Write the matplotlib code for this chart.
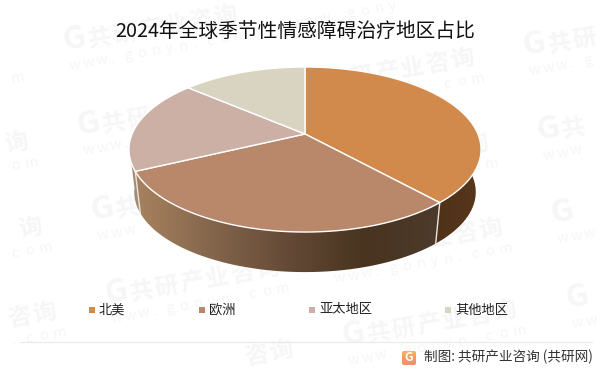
import numpy as np
import matplotlib
matplotlib.use('Agg')
import matplotlib.pyplot as plt
from matplotlib.colors import LinearSegmentedColormap
from matplotlib.patches import Polygon, FancyBboxPatch

plt.rcParams['font.family'] = ['Noto Sans CJK SC', 'DejaVu Sans']

title = '2024年全球季节性情感障碍治疗地区占比'
regions = ['北美', '欧洲', '亚太地区', '其他地区']
shares = [38.3, 29.6, 18.4, 13.7]
top_colors = ['#d1894c', '#b9886b', '#ccb0a5', '#d9d4c1']
source = '制图: 共研产业咨询 (共研网)'
legend_x = [92, 202, 312, 448]
wm_word = 'G共研产业咨询'
wm_url = 'www.gonyn.com'
# bottom left corner of each watermark logo
wm_x = [65, 79, 93, 107, 121, -158, -144, -130, -116, 288, 302, 316, 330, 344, 525, 539, 553, 568]
wm_y = [57, 142, 227, 310, 392, 99, 184, 269, 354, 15, 100, 185, 270, 352, 62, 147, 230, 315]

k = 0.188
ax_x, ax_y = 172.9, 79.6
cx, cy = 305, 134
depth = 43
shrink = 0.97
wm_color = '#f6f6f6'


def project(deg, s=1.0, dy=0):
    t = np.radians(deg)
    X, Y = np.sin(t), np.cos(t)
    w = 1 + k * Y
    return cx + s * ax_x * X / w, cy + dy - s * ax_y * Y / w


fig = plt.figure(figsize=(6.02, 3.75), dpi=100)
ax = fig.add_axes([0, 0, 1, 1])
ax.set_xlim(0, 602)
ax.set_ylim(375, 0)
ax.axis('off')

# watermark, one glyph at a time, glyphs past the edge are left out
r = np.radians(10)
for x, y in zip(wm_x, wm_y):
    for j, ch in enumerate(wm_word):
        px, py = x + j * 25.5 * np.cos(r), y - j * 25.5 * np.sin(r)
        if 0 < px < 578 and 24 < py < 372:
            ax.text(px, py, ch, fontsize=23 if j == 0 else 17, fontweight='bold', color=wm_color, rotation=10,
                    rotation_mode='anchor', ha='left', va='bottom', zorder=0)
    for j, ch in enumerate(wm_url):
        px, py = x + 5 + j * 14 * np.cos(r), y + 16 - j * 14 * np.sin(r)
        if 0 < px < 590 and 12 < py < 372:
            ax.text(px, py, ch, fontsize=10.5, color=wm_color, rotation=10,
                    rotation_mode='anchor', ha='left', va='bottom', zorder=0)

edges = np.concatenate([[0], np.cumsum(shares)]) / sum(shares) * 360

# side wall, front part only
side_left = 262
side_right = 88
grad = np.linspace(0, 1, 256).reshape(1, -1)
side_maps = [
    LinearSegmentedColormap.from_list('a', ['#4f3219', '#57371c']),
    LinearSegmentedColormap.from_list('b', ['#a8825f', '#84664c', '#644a37', '#48341f', '#4e3a2b']),
    LinearSegmentedColormap.from_list('c', ['#a79585', '#a08469']),
]
for i in range(3):
    a0 = max(edges[i], side_right)
    a1 = min(edges[i + 1], side_left)
    ang = np.linspace(a0, a1, 80)
    x1, y1 = project(ang)
    x2, y2 = project(ang[::-1], shrink, depth)
    pts = np.column_stack([np.r_[x1, x2], np.r_[y1, y2]])
    poly = Polygon(pts, closed=True, fc='none', ec='none', zorder=2)
    ax.add_patch(poly)
    xs = pts[:, 0]
    im = ax.imshow(grad, extent=[xs.min(), xs.max(), 280, 130], cmap=side_maps[i], aspect='auto', zorder=2)
    im.set_clip_path(poly)
    xa, ya = project(np.array([edges[i + 1]]))
    xb, yb = project(np.array([edges[i + 1]]), shrink, depth)
    if side_right < edges[i + 1] < side_left:
        ax.plot([xa[0], xb[0]], [ya[0], yb[0]], color='#e8e4e0', lw=1.0, zorder=3)

# top faces
for i in range(4):
    ang = np.linspace(edges[i], edges[i + 1], 120)
    x, y = project(ang)
    ax.add_patch(Polygon(np.column_stack([np.r_[cx, x], np.r_[cy, y]]), closed=True, fc=top_colors[i],
                         ec='white', lw=1.0, joinstyle='round', zorder=4))

ax.text(295.5, 31, title, fontsize=14.2, color='#111111', ha='center', va='center', zorder=6)

# legend
for x, name, c in zip(legend_x, regions, top_colors):
    ax.scatter([x], [310], marker='s', s=13, color=c, linewidths=0, zorder=6)
    ax.text(x + 7, 310, name, fontsize=9.5, color='#222222', ha='left', va='center', zorder=6)

ax.plot([20, 592], [342, 342], color='#e9e9e9', lw=0.8, zorder=1)

# footer logo
box = FancyBboxPatch((402, 351), 14, 14, boxstyle='round,pad=0,rounding_size=2', fc='none', ec='none', zorder=6)
ax.add_patch(box)
logo = ax.imshow(np.linspace(0, 1, 64).reshape(-1, 1), extent=[402, 416, 365, 351], aspect='auto', zorder=6,
                 cmap=LinearSegmentedColormap.from_list('l', ['#f8b45c', '#f59a62', '#f58f6e']))
logo.set_clip_path(box)
ax.text(409, 357.6, 'G', fontsize=8.5, fontweight='bold', color='white', ha='center', va='center', zorder=7)
ax.text(593, 357, source, fontsize=9.8, color='#333333', ha='right', va='center', zorder=6)

ax.set_xlim(0, 602)
ax.set_ylim(375, 0)
fig.savefig('out.png', dpi=100)
